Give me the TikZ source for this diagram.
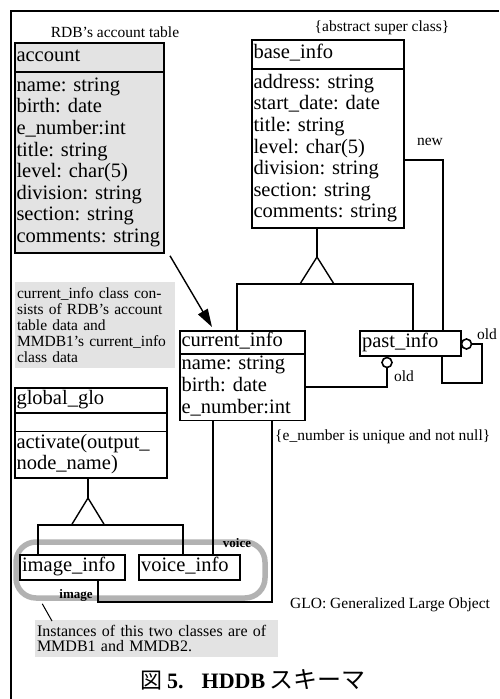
\documentclass[tikz,border=0pt]{standalone}
\usepackage{fontspec}
\setmainfont{Liberation Serif}
\newfontfamily\jpfont{Noto Sans CJK JP}
\usetikzlibrary{shapes.multipart,arrows.meta,calc}

\frenchspacing
\newcommand\clsfont{\fontsize{20.5}{21.6}\selectfont}
\newcommand\notefont{\fontsize{15.5}{16}\selectfont}

\begin{document}
\begin{tikzpicture}[x=1pt,y=-1pt,
  cls/.style={draw,line width=1.4pt,rectangle split,rectangle split parts=2,
    anchor=north west,outer sep=0pt,inner xsep=1.5pt,inner ysep=3pt,
    align=left,font=\clsfont},
  leaf/.style={draw,line width=1.4pt,anchor=north west,outer sep=0pt,
    inner xsep=2pt,inner ysep=1.7pt,align=left,font=\clsfont},
  lbl/.style={font=\notefont,inner sep=0pt},
  link/.style={line width=1.4pt},
  oldmark/.style={circle,draw,line width=1.6pt,fill=white,minimum size=10pt,inner sep=0pt},
  shade/.style={fill=gray!22,anchor=north west,outer sep=0pt,align=left}]
  \useasboundingbox (0,0) rectangle (499,699);
  \draw[line width=1.2pt] (499,11) -- (11,11) -- (11,699);

  % the group of large objects
  \node (globand) [draw=gray!60,line width=5.5pt,rounded corners=20pt,
    minimum width=249pt,minimum height=56pt] at (140.5,570) {};

  % classes
  \node (acc) [cls,fill=gray!22,line width=1.7pt,text width=146pt] at (15,43)
    {\strut account \nodepart{two} \strut name: string\\ birth: date\\ e\_number:int\\
     title: string\\ level: char(5)\\ division: string\\ section: string\\ comments: string\strut};
  \node (base) [cls,line width=1.7pt,text width=149pt] at (252,40)
    {\strut base\_info \nodepart{two} \strut address: string\\ start\_date: date\\ title: string\\
     level: char(5)\\ division: string\\ section: string\\ comments: string\strut};
  \node (cur) [cls,inner ysep=0pt,text width=122pt] at (180,331)
    {\strut current\_info \nodepart{two} \strut name: string\\ birth: date\\ e\_number:int\strut};
  \node (past) [leaf,text width=97pt] at (360,331) {\strut past\_info};
  \node (glo) [cls,rectangle split parts=3,inner ysep=1pt,text width=149pt] at (15,388)
    {\strut global\_glo \nodepart{two} \rule{0pt}{15pt} \nodepart{three}
     \strut activate(output\_\\ node\_name)\strut};
  \node (img) [leaf,text width=101pt] at (20,555) {\strut image\_info};
  \node (voice) [leaf,text width=97pt] at (139,555) {\strut voice\_info};

  % generalization of base_info
  \coordinate (supA) at (317,257);
  \coordinate (supL) at (237,284);
  \coordinate (supR) at (413,284);
  \draw[link] (base.south -| supA) -- (supA);
  \draw[link] (supA) -- ++(-17,27) -- ++(34,0) -- cycle;
  \draw[link] (cur.north -| supL) -- (supL) -- (supR) -- (past.north -| supR);

  % generalization of global_glo
  \coordinate (gloA) at (88,498);
  \coordinate (gloL) at (38,525);
  \coordinate (gloR) at (183,525);
  \draw[link] (glo.south -| gloA) -- (gloA);
  \draw[link] (gloA) -- ++(-16.5,27) -- ++(33,0) -- cycle;
  \draw[link] (img.north -| gloL) -- (gloL) -- (gloR) -- (voice.north -| gloR);

  % new / old
  \coordinate (newC) at (443,160);
  \draw[link] (base.east |- newC) -- (newC) -- (past.north -| newC);
  \node (oldA) [oldmark] at (466.5,344) {};
  \coordinate (selfR) at (482,383);
  \coordinate (selfL) at (442,383);
  \draw[link] (oldA.east) -| (selfR) -- (selfL) -- (past.south -| selfL);
  \node (oldB) [oldmark] at (387,362.5) {};
  \coordinate (oldBC) at (387,387);
  \draw[link] (oldB.south) |- (cur.east |- oldBC);

  % current_info to voice_info and image_info
  \coordinate (vcC) at (213,540);
  \draw[link] (cur.south -| vcC) -- (voice.north -| vcC);
  \coordinate (imgR) at (272,602);
  \coordinate (imgL) at (98,602);
  \draw[link] (cur.south -| imgR) -- (imgR) -- (imgL) -- (img.south -| imgL);

  \draw[line width=1.4pt,-{Triangle[length=18pt,width=11pt]}]
    ($(acc.south east)+(6,3)$) -- ($(cur.north west)+(32,-4)$);

  % notes
  \node (curnote) [shade,font=\notefont,text width=156pt,inner xsep=2pt,inner ysep=3pt,
    minimum height=86pt] at (15,282)
    {current\_info class con-\\ sists of RDB's account\\ table data and\\
     MMDB1's current\_info\\ class data};
  \node (instnote) [shade,font=\fontsize{16}{15}\selectfont,text width=239pt,
    inner xsep=2pt,inner ysep=5pt] at (35,620)
    {Instances of this two classes are of\\ MMDB1 and MMDB2.};
  \draw[line width=1pt] ($(globand.south west)+(29,3)$) -- ($(instnote.north west)+(17,1)$);

  % labels
  \node (acclbl) [lbl] at (115,32) {RDB's account table};
  \node (baselbl) [lbl] at (382,28) {\{abstract super class\}};
  \node (newlbl) [lbl] at (430,142) {new};
  \node (oldAlbl) [lbl] at (487,334) {old};
  \node (oldBlbl) [lbl] at (404,376) {old};
  \node (uniqlbl) [lbl,anchor=west] at (275,437) {\{e\_number is unique and not null\}};
  \node (voicelbl) [lbl,font=\fontsize{13}{13}\selectfont\bfseries] at (237,543) {voice};
  \node (imglbl) [lbl,font=\fontsize{13}{13}\selectfont\bfseries] at (76,595) {image};
  \node (glolbl) [lbl,anchor=west] at (290,605) {GLO: Generalized Large Object};

  \node (cap) [anchor=west,inner sep=0pt] at (140,680)
    {{\jpfont\fontsize{22}{22}\selectfont 図}\hspace{5pt}{\fontsize{22}{22}\selectfont\bfseries
     5.\hspace{18pt}HDDB}\hspace{4pt}{\jpfont\fontsize{24}{24}\selectfont スキーマ}};
\end{tikzpicture}
\end{document}
